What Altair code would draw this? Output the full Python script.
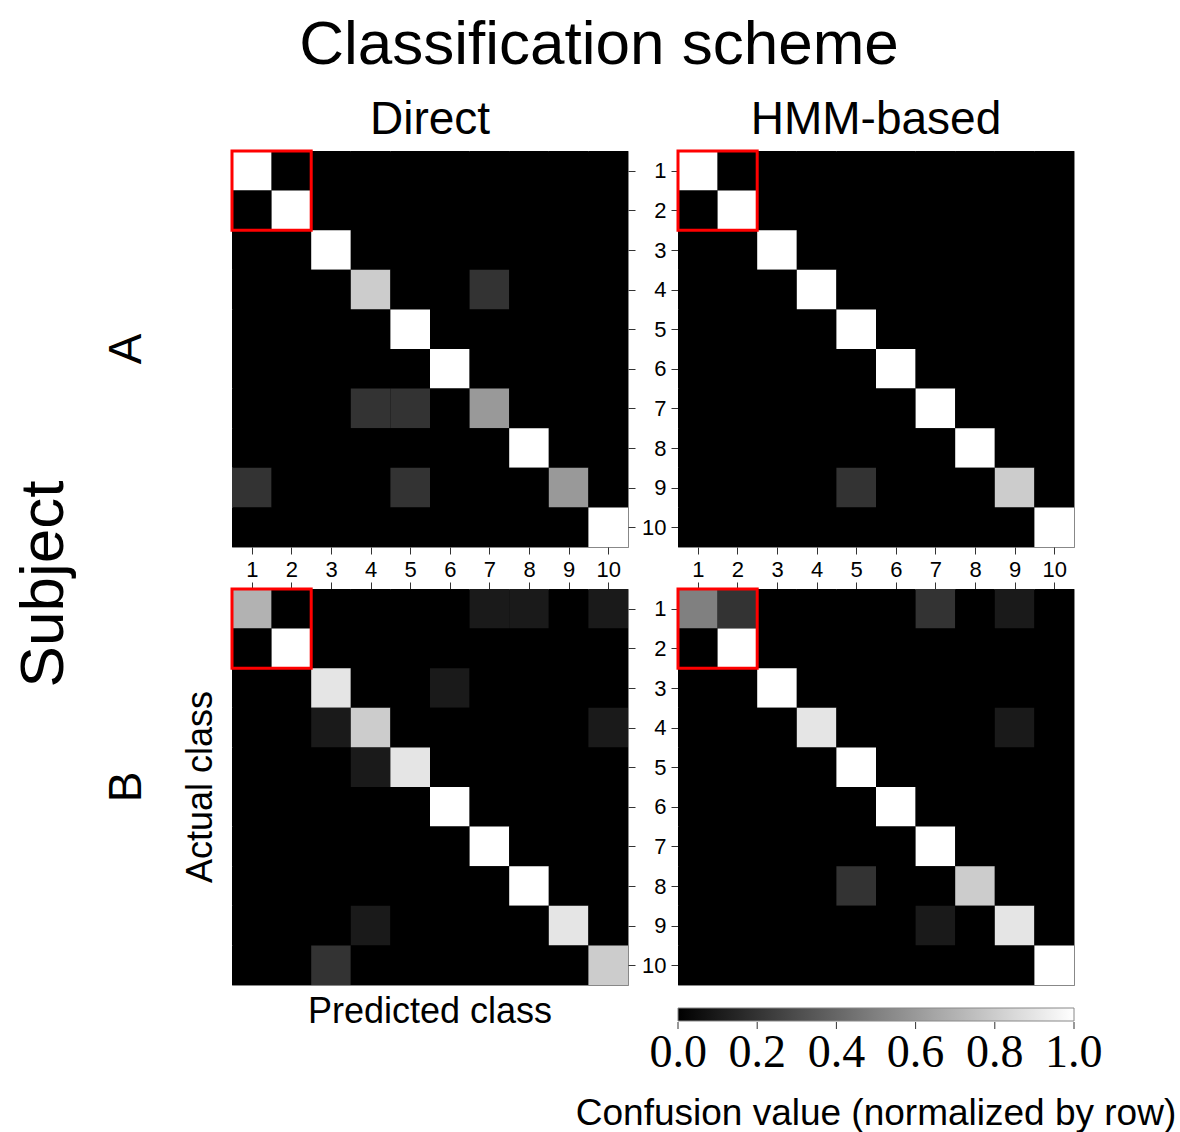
import altair as alt
import pandas as pd

# ---------------- data ----------------
classes = list(range(1, 11))
highlight_classes = [1, 2]
figure_title = "Classification scheme"
scheme_titles = ["Direct", "HMM-based"]
subject_titles = ["A", "B"]
subject_label = "Subject"
actual_label = "Actual class"
predicted_label = "Predicted class"
colorbar_title = "Confusion value (normalized by row)"
colorbar_ticks = [0.0, 0.2, 0.4, 0.6, 0.8, 1.0]

# rows = actual class 1..10, columns = predicted class 1..10
A_direct = [
    [1.0, 0, 0, 0, 0, 0, 0, 0, 0, 0],
    [0, 1.0, 0, 0, 0, 0, 0, 0, 0, 0],
    [0, 0, 1.0, 0, 0, 0, 0, 0, 0, 0],
    [0, 0, 0, 0.8, 0, 0, 0.2, 0, 0, 0],
    [0, 0, 0, 0, 1.0, 0, 0, 0, 0, 0],
    [0, 0, 0, 0, 0, 1.0, 0, 0, 0, 0],
    [0, 0, 0, 0.2, 0.2, 0, 0.6, 0, 0, 0],
    [0, 0, 0, 0, 0, 0, 0, 1.0, 0, 0],
    [0.2, 0, 0, 0, 0.2, 0, 0, 0, 0.6, 0],
    [0, 0, 0, 0, 0, 0, 0, 0, 0, 1.0],
]
A_hmm = [
    [1.0, 0, 0, 0, 0, 0, 0, 0, 0, 0],
    [0, 1.0, 0, 0, 0, 0, 0, 0, 0, 0],
    [0, 0, 1.0, 0, 0, 0, 0, 0, 0, 0],
    [0, 0, 0, 1.0, 0, 0, 0, 0, 0, 0],
    [0, 0, 0, 0, 1.0, 0, 0, 0, 0, 0],
    [0, 0, 0, 0, 0, 1.0, 0, 0, 0, 0],
    [0, 0, 0, 0, 0, 0, 1.0, 0, 0, 0],
    [0, 0, 0, 0, 0, 0, 0, 1.0, 0, 0],
    [0, 0, 0, 0, 0.2, 0, 0, 0, 0.8, 0],
    [0, 0, 0, 0, 0, 0, 0, 0, 0, 1.0],
]
B_direct = [
    [0.7, 0, 0, 0, 0, 0, 0.1, 0.1, 0, 0.1],
    [0, 1.0, 0, 0, 0, 0, 0, 0, 0, 0],
    [0, 0, 0.9, 0, 0, 0.1, 0, 0, 0, 0],
    [0, 0, 0.1, 0.8, 0, 0, 0, 0, 0, 0.1],
    [0, 0, 0, 0.1, 0.9, 0, 0, 0, 0, 0],
    [0, 0, 0, 0, 0, 1.0, 0, 0, 0, 0],
    [0, 0, 0, 0, 0, 0, 1.0, 0, 0, 0],
    [0, 0, 0, 0, 0, 0, 0, 1.0, 0, 0],
    [0, 0, 0, 0.1, 0, 0, 0, 0, 0.9, 0],
    [0, 0, 0.2, 0, 0, 0, 0, 0, 0, 0.8],
]
B_hmm = [
    [0.5, 0.2, 0, 0, 0, 0, 0.2, 0, 0.1, 0],
    [0, 1.0, 0, 0, 0, 0, 0, 0, 0, 0],
    [0, 0, 1.0, 0, 0, 0, 0, 0, 0, 0],
    [0, 0, 0, 0.9, 0, 0, 0, 0, 0.1, 0],
    [0, 0, 0, 0, 1.0, 0, 0, 0, 0, 0],
    [0, 0, 0, 0, 0, 1.0, 0, 0, 0, 0],
    [0, 0, 0, 0, 0, 0, 1.0, 0, 0, 0],
    [0, 0, 0, 0, 0.2, 0, 0, 0.8, 0, 0],
    [0, 0, 0, 0, 0, 0, 0.1, 0, 0.9, 0],
    [0, 0, 0, 0, 0, 0, 0, 0, 0, 1.0],
]

# ---------------- style ----------------
FONT = "Liberation Sans"
SERIF = "Liberation Serif"
W = 396


def long_df(mat):
    rows = []
    for i, actual in enumerate(classes):
        for j, pred in enumerate(classes):
            rows.append({"actual": actual, "predicted": pred, "value": mat[i][j]})
    return pd.DataFrame(rows)


xscale = alt.Scale(domain=[0.5, 10.5], nice=False, zero=False)
yscale = alt.Scale(domain=[0.5, 10.5], nice=False, zero=False, reverse=True)
# a hair wider than [0, 1] so the end labels of the colorbar are centred on their ticks
cscale = alt.Scale(domain=[-0.0005, 1.0005], range=["#000000", "#ffffff"],
                   interpolate="rgb", nice=False, zero=False)

legend = alt.Legend(
    orient="none", legendX=446, legendY=857, direction="horizontal",
    gradientLength=396, gradientThickness=13,
    gradientStrokeColor="#888888", gradientStrokeWidth=1,
    values=colorbar_ticks, format=".1f",
    labelFont=SERIF, labelFontSize=46, labelColor="black",
    labelAlign="center", labelOverlap=False, labelOffset=10,
    title=None, padding=0,
)


def axis(orient, labels):
    return alt.Axis(
        orient=orient, values=classes, format="d", labels=labels,
        ticks=True, tickSize=7, tickColor="#333333", tickWidth=1,
        domain=False, grid=False, title=None,
        labelFont=FONT, labelFontSize=22, labelColor="black",
        labelPadding=5, labelFlush=False, labelOverlap=False,
    )


def label(text, x, y, size, angle=0, font=FONT):
    return alt.Chart(pd.DataFrame({"t": [text]})).mark_text(
        font=font, fontSize=size, angle=angle, align="center",
        baseline="alphabetic", color="black",
    ).encode(text="t:N", x=alt.value(x), y=alt.value(y))


def panel(mat, xorient, xlabels, yorient, ylabels, extras, colorbar_ticks_layer=False):
    xa = axis(xorient, xlabels)
    ya = axis(yorient, ylabels)
    heat = alt.Chart(long_df(mat)).transform_calculate(
        x0="datum.predicted - 0.5", x1="datum.predicted + 0.5",
        y0="datum.actual - 0.5", y1="datum.actual + 0.5",
    ).mark_rect().encode(
        x=alt.X("x0:Q", scale=xscale, axis=xa),
        x2="x1:Q",
        y=alt.Y("y0:Q", scale=yscale, axis=ya),
        y2="y1:Q",
        color=alt.Color("value:Q", scale=cscale, legend=legend),
    )
    box = alt.Chart(pd.DataFrame({"lo": [min(highlight_classes)], "hi": [max(highlight_classes)]})).transform_calculate(
        x0="datum.lo - 0.5", x1="datum.hi + 0.5",
        y0="datum.lo - 0.5", y1="datum.hi + 0.5",
    ).mark_rect(fill="transparent", stroke="#ff0000", strokeWidth=3).encode(
        x=alt.X("x0:Q", scale=xscale, axis=xa),
        x2="x1:Q",
        y=alt.Y("y0:Q", scale=yscale, axis=ya),
        y2="y1:Q",
    )
    layers = [heat, box] + list(extras)
    if colorbar_ticks_layer:
        # colorbar ticks: the colorbar spans this panel's width, so value v sits at 0.5 + 10 v
        ticks = alt.Chart(pd.DataFrame({"v": colorbar_ticks})).transform_calculate(
            x0="0.5 + 10 * datum.v"
        ).mark_rule(color="#333333", strokeWidth=1).encode(
            x=alt.X("x0:Q", scale=xscale, axis=xa),
            y=alt.value(433), y2=alt.value(440),
        )
        layers.append(ticks)
    return alt.layer(*layers).properties(width=W, height=W)


anchor = alt.Chart(pd.DataFrame({"a": [0]})).mark_rule(strokeOpacity=0).encode(
    x=alt.value(-231), x2=alt.value(-231), y=alt.value(-150), y2=alt.value(-150)
)

tl = panel(A_direct, "bottom", True, "right", False, [
    anchor,
    label(figure_title, 367, -87, 62),
    label(scheme_titles[0], 198, -17, 46),
    label(subject_titles[0], -91, 198, 46, angle=270),
    label(subject_label, -169, 433, 62, angle=270),
])
tr = panel(A_hmm, "bottom", True, "left", True, [
    label(scheme_titles[1], 198, -17, 46),
])
bl = panel(B_direct, "top", False, "right", False, [
    label(subject_titles[1], -91, 198, 46, angle=270),
    label(actual_label, -20, 198, 36, angle=270),
    label(predicted_label, 198, 434, 36),
])
br = panel(B_hmm, "top", False, "left", True, [
    label(colorbar_title, 198, 536, 37),
], colorbar_ticks_layer=True)

chart = alt.concat(
    tl, tr, bl, br, columns=2,
    spacing=alt.RowColnumber(row=42, column=50), bounds="flush",
).properties(
    padding=0, background="white"
).configure_view(stroke="#888888", strokeWidth=1, fill="#000000")

chart.save("out.html", embed_options={"renderer": "svg", "actions": False})
